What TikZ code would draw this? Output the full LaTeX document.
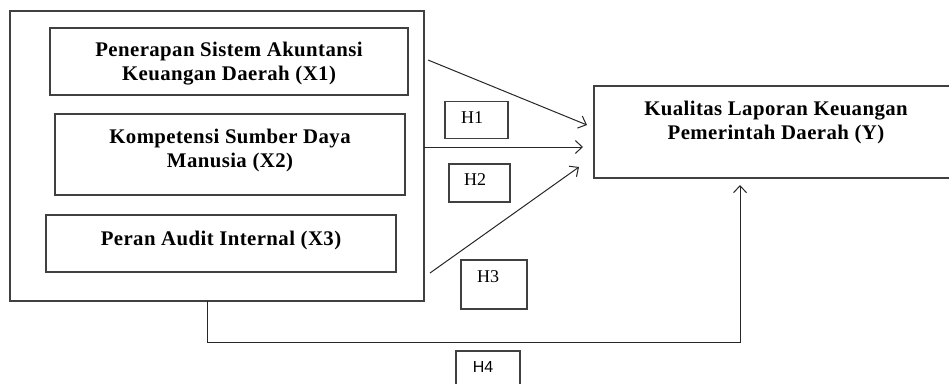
\documentclass[tikz,border=0pt]{standalone}
\usepackage{fontspec}
\setmainfont{Liberation Serif}
\newfontfamily\hsans{Liberation Sans}
\usetikzlibrary{arrows.meta}
\begin{document}
\begin{tikzpicture}[x=1pt,y=-1pt,
  box/.style={draw=black!75,line width=1.2pt,rectangle,inner sep=0pt},
  vtext/.style={font=\fontsize{20.8}{24}\selectfont\bfseries\addfontfeatures{LetterSpace=2},align=center,inner sep=0pt},
  htext/.style={font=\fontsize{18}{20}\selectfont,inner sep=0pt},
  arr/.style={draw=black!85,line width=1pt,-{Straight Barb[length=7pt,width=13pt,line width=1pt]}}]
\useasboundingbox (0,0) rectangle (949,383);
\clip (0,0) rectangle (949,383);
% outer box
\node[box,minimum width=414pt,minimum height=290pt] (outer) at (217,156) {};
% X boxes
\node[box,minimum width=358pt,minimum height=67pt] (x1) at (229,61.5) {};
\node[vtext] (x1t) at (229,64) {Penerapan Sistem Akuntansi\\Keuangan Daerah (X1)};
\node[box,minimum width=350pt,minimum height=81pt] (x2) at (230,154.5) {};
\node[vtext] (x2t) at (230,150) {Kompetensi Sumber Daya\\Manusia (X2)};
\node[box,minimum width=350pt,minimum height=57pt] (x3) at (221,243.5) {};
\node[vtext] (x3t) at (221,240) {Peran Audit Internal (X3)};
% Y box
\node[box,minimum width=360pt,minimum height=92pt] (y) at (774,132) {};
\node[vtext] (yt) at (776,122) {Kualitas Laporan Keuangan\\Pemerintah Daerah (Y)};
% H boxes
\node[box,line width=1.1pt,minimum width=63pt,minimum height=37pt] (h1) at (476.5,120) {};
\node[htext] (h1t) at (472,118) {H1};
\node[box,line width=1.1pt,minimum width=61pt,minimum height=38pt] (h2) at (479.5,183) {};
\node[htext] (h2t) at (475,180) {H2};
\node[box,line width=1.1pt,minimum width=66pt,minimum height=49pt] (h3) at (494,284.5) {};
\node[htext] (h3t) at (488,277) {H3};
\node[box,line width=1.1pt,minimum width=64pt,minimum height=50pt] (h4) at (488,376) {};
\node[htext,font=\fontsize{16}{18}\selectfont\hsans] (h4t) at (483,367) {H4};
% connectors
\coordinate (a1) at (428,60);
\coordinate (b1) at (587,125);
\coordinate (a2) at (424,147);
\coordinate (b2) at (583,147);
\coordinate (a3) at (430,273);
\coordinate (b3) at (579,167);
\coordinate (a4) at (207,301);
\coordinate (b4) at (740,185);
\coordinate (c4) at (207,342);
\draw[arr] (a4) -- (c4) -| (b4);
\draw[arr] (a1) -- (b1);
\draw[arr] (a2) -- (b2);
\draw[arr] (a3) -- (b3);
\end{tikzpicture}
\end{document}
